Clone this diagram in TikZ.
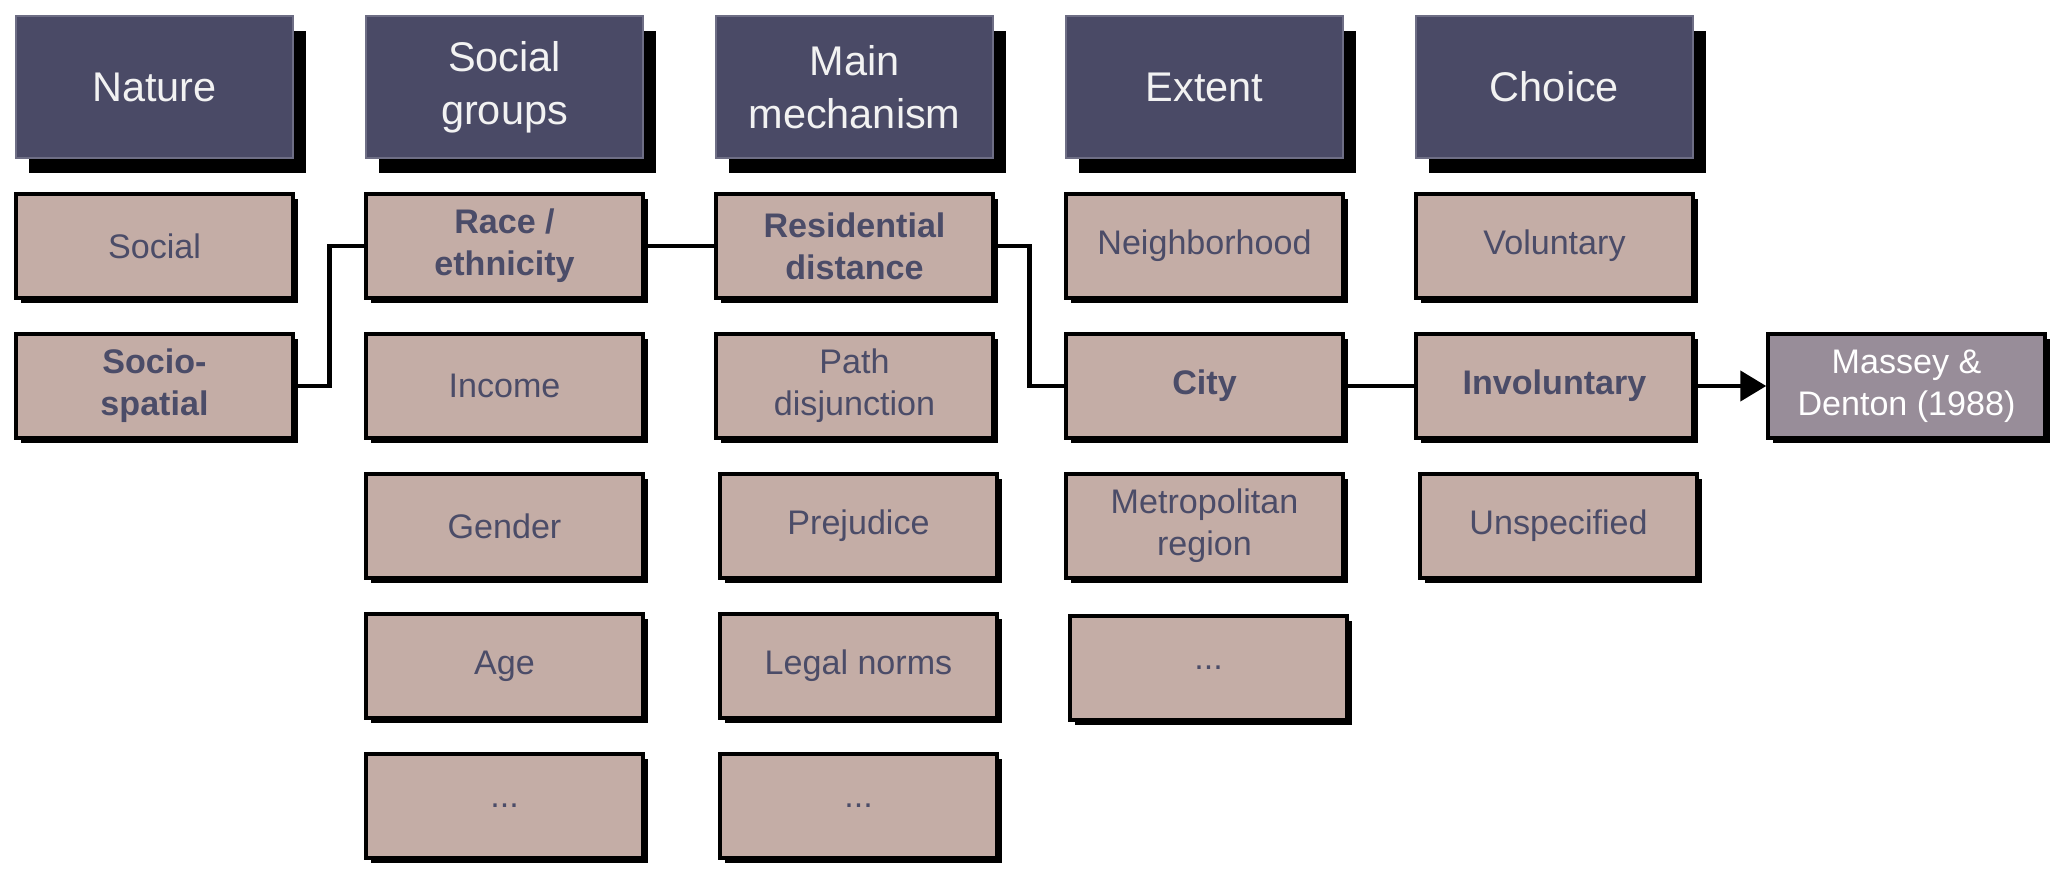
\documentclass[tikz,border=0pt]{standalone}
\usepackage{fontspec}
\setmainfont{Liberation Sans}
\usepackage{tikz}
\usetikzlibrary{positioning,calc,shadows,arrows.meta}

\definecolor{headblue}{RGB}{74,74,102}
\definecolor{itemrose}{RGB}{196,173,166}
\definecolor{itemtext}{RGB}{75,76,104}
\definecolor{refmauve}{RGB}{152,141,153}

\begin{document}
\begin{tikzpicture}[line width=1.3pt,
                       head node/.style={rectangle,fill=headblue,draw=headblue!80!white,thin,
                                         minimum width=2.77cm,minimum height=1.42cm,inner sep=1pt,
                                         align=center,text=white!95!black,
                                         font=\fontsize{11.8}{15}\selectfont,
                                         drop shadow={shadow xshift=0.13cm,shadow yshift=-0.15cm,
                                                      fill=black,opacity=1}},
                       item node/.style={rectangle,fill=itemrose,draw=black,line width=1pt,
                                         minimum width=2.77cm,minimum height=1.04cm,inner sep=1pt,
                                         align=center,text=itemtext,
                                         font=\fontsize{9.7}{12}\selectfont,
                                         drop shadow={shadow xshift=0.05cm,shadow yshift=-0.05cm,
                                                      fill=black,opacity=1}},
                       pick/.style={font=\fontsize{9.7}{12}\selectfont\bfseries},
                       ref node/.style={item node,fill=refmauve,text=white}
                      ]
   \useasboundingbox (0,0) rectangle (20.66,-8.80);

   % headers
   \node[head node] (nat)  at (1.545,-0.87)  {Nature};
   \node[head node] (grp)  at (5.045,-0.87)  {Social\\groups};
   \node[head node] (mech) at (8.545,-0.87)  {Main\\mechanism};
   \node[head node] (ext)  at (12.045,-0.87) {Extent};
   \node[head node] (cho)  at (15.545,-0.87) {Choice};

   % nature
   \node[item node] (soc)         at (1.545,-2.46) {Social};
   \node[item node,pick] (socsp)  at (1.545,-3.86) {Socio-\\spatial};

   % social groups
   \node[item node,pick] (race)   at (5.045,-2.46) {Race /\\ethnicity};
   \node[item node] (inc)         at (5.045,-3.86) {Income};
   \node[item node] (gen)         at (5.045,-5.26) {Gender};
   \node[item node] (age)         at (5.045,-6.66) {Age};
   \node[item node] (grpx)        at (5.045,-8.06) {...};

   % main mechanism
   \node[item node,pick] (res)    at (8.545,-2.46) {Residential\\distance};
   \node[item node] (path)        at (8.545,-3.86) {Path\\disjunction};
   \node[item node] (prej)        at (8.585,-5.26) {Prejudice};
   \node[item node] (legal)       at (8.585,-6.66) {Legal norms};
   \node[item node] (mechx)       at (8.585,-8.06) {...};

   % extent
   \node[item node] (nbh)         at (12.045,-2.46) {Neighborhood};
   \node[item node,pick] (city)   at (12.045,-3.86) {City};
   \node[item node] (metro)       at (12.045,-5.26) {Metropolitan\\region};
   \node[item node] (extx)        at (12.085,-6.68) {...};

   % choice
   \node[item node] (vol)         at (15.545,-2.46) {Voluntary};
   \node[item node,pick] (inv)    at (15.545,-3.86) {Involuntary};
   \node[item node] (unsp)        at (15.585,-5.26) {Unspecified};

   \node[ref node] (mas)          at (19.065,-3.86) {Massey \&\\Denton (1988)};

   \draw (socsp.east) -| ($(socsp.east)!0.5!(race.west)$) |- (race.west);
   \draw (res.east) -| ($(res.east)!0.5!(city.west)$) |- (city.west);
   \path%
    (race) edge node {} (res)
    (city) edge node {} (inv);
   \draw[-{Triangle[length=0.26cm,width=0.3cm]}] (inv) -- (mas);
  \end{tikzpicture}
\end{document}
